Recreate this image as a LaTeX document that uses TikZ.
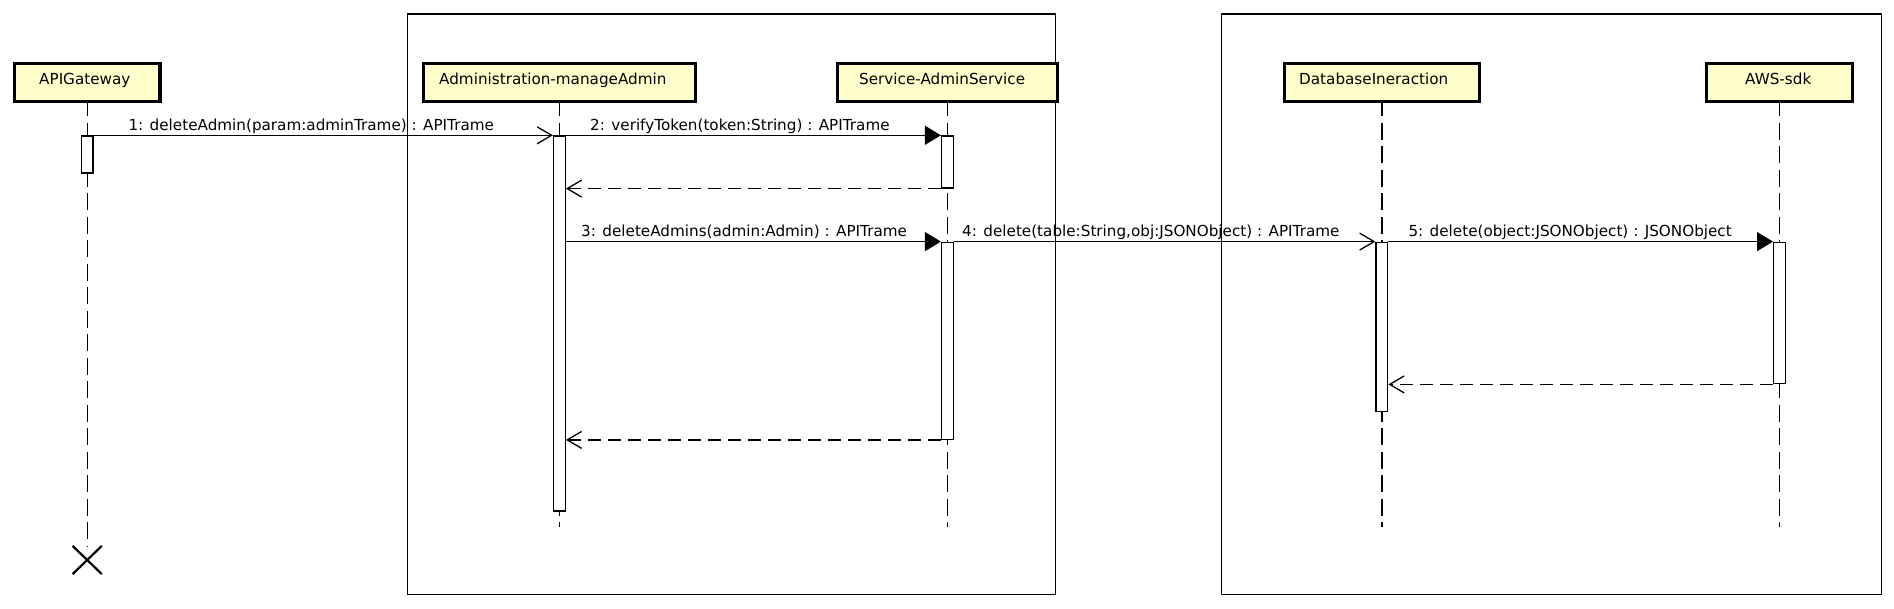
\documentclass[tikz,border=0pt]{standalone}
\usepackage{fontspec}
\setmainfont{DejaVu Sans}
\usetikzlibrary{arrows.meta,shapes.misc}
\definecolor{partfill}{RGB}{255,255,204}
\begin{document}
\begin{tikzpicture}[x=1pt,y=-1pt,
  font=\fontsize{15.2}{18}\selectfont,
  part/.style={draw, line width=3.3pt, fill=partfill, inner sep=0pt, minimum height=38.3pt},
  act/.style={draw, fill=white, line width=1.3pt, minimum width=11.7pt, inner sep=0pt, anchor=north},
  lifeline/.style={line width=1.2pt, dash pattern=on 17pt off 6.5pt, dash phase=4pt},
  sync/.style={line width=1.3pt, -{Triangle[length=16pt,width=19pt]}},
  async/.style={line width=1.3pt, -{Straight Barb[length=14.5pt,width=17pt]}},
  reply/.style={line width=1.3pt, dash pattern=on 13pt off 7pt, -{Straight Barb[length=14.5pt,width=17pt]}},
  lbl/.style={anchor=base west, inner sep=0pt},
  frm/.style={draw, line width=1.3pt, inner sep=0pt, anchor=north west}
]
\useasboundingbox (0,0) rectangle (1894,608);

% frames
\node[frm, minimum width=648.3pt, minimum height=580.2pt] (frame1) at (406.7,13.3) {};
\node[frm, minimum width=660pt, minimum height=580.7pt] (frame2) at (1221,13.3) {};

% participant boxes
\node[part, minimum width=145.7pt] (gw) at (87.2,82.5) {};
\node[part, minimum width=272pt] (adm) at (559.4,82.5) {};
\node[part, minimum width=220pt] (svc) at (947.4,82.5) {};
\node[part, minimum width=195pt] (db) at (1381.9,82.5) {};
\node[part, minimum width=145.7pt] (aws) at (1779.5,82.5) {};

% destruction mark
\node[cross out, draw, line width=2.2pt, minimum width=27pt, minimum height=26pt, inner sep=0pt] (gwX) at (87.2,560) {};
\coordinate (admEnd) at (559.4,527);
\coordinate (svcEnd) at (947.4,527);
\coordinate (dbEnd) at (1381.9,527);
\coordinate (awsEnd) at (1779.5,527);

% lifelines
\draw[lifeline] (gw.south) -- (gwX.north);
\draw[lifeline] (adm.south) -- (admEnd);
\draw[lifeline] (svc.south) -- (svcEnd);
\draw[lifeline] (db.south) -- (dbEnd);
\draw[lifeline] (aws.south) -- (awsEnd);

% activations
\node[act, minimum height=37pt] (gwA) at (87.2,135.3) {};
\node[act, minimum height=375pt] (admA) at (559.4,135.3) {};
\node[act, minimum height=52pt] (svA1) at (947.4,135.3) {};
\node[act, minimum height=197pt] (svA2) at (947.4,241.6) {};
\node[act, minimum height=169pt] (dbA) at (1381.9,241.6) {};
\node[act, minimum height=141.5pt] (awsA) at (1779.5,241.6) {};

% messages
\draw[async] (gwA.north east) -- (admA.north west);
\draw[sync] (admA.north east) -- (svA1.north west);
\draw[reply] (svA1.south west) -- (admA.east |- svA1.south west);
\draw[sync] (admA.east |- svA2.north west) -- (svA2.north west);
\draw[async] (svA2.north east) -- (dbA.north west);
\draw[sync] (dbA.north east) -- (awsA.north west);
\draw[reply] (awsA.south west) -- (dbA.east |- awsA.south west);
\draw[reply] (svA2.south west) -- (admA.east |- svA2.south west);

% participant names
\node[lbl] (gwT) at (39,84.3) {APIGateway};
\node[lbl] (admT) at (439,84.3) {Administration-manageAdmin};
\node[lbl] (svcT) at (859,84.3) {Service-AdminService};
\node[lbl] (dbT) at (1299,84.3) {DatabaseIneraction};
\node[lbl] (awsT) at (1745,84.3) {AWS-sdk};

% message labels
\node[lbl] (m1) at (128.3,130) {1: deleteAdmin(param:adminTrame) : APITrame};
\node[lbl] (m2) at (590,130) {2: verifyToken(token:String) : APITrame};
\node[lbl] (m3) at (581,236.3) {3: deleteAdmins(admin:Admin) : APITrame};
\node[lbl] (m4) at (962,236.3) {4: delete(table:String,obj:JSONObject) : APITrame};
\node[lbl] (m5) at (1408.3,236.3) {5: delete(object:JSONObject) : JSONObject};
\end{tikzpicture}
\end{document}
